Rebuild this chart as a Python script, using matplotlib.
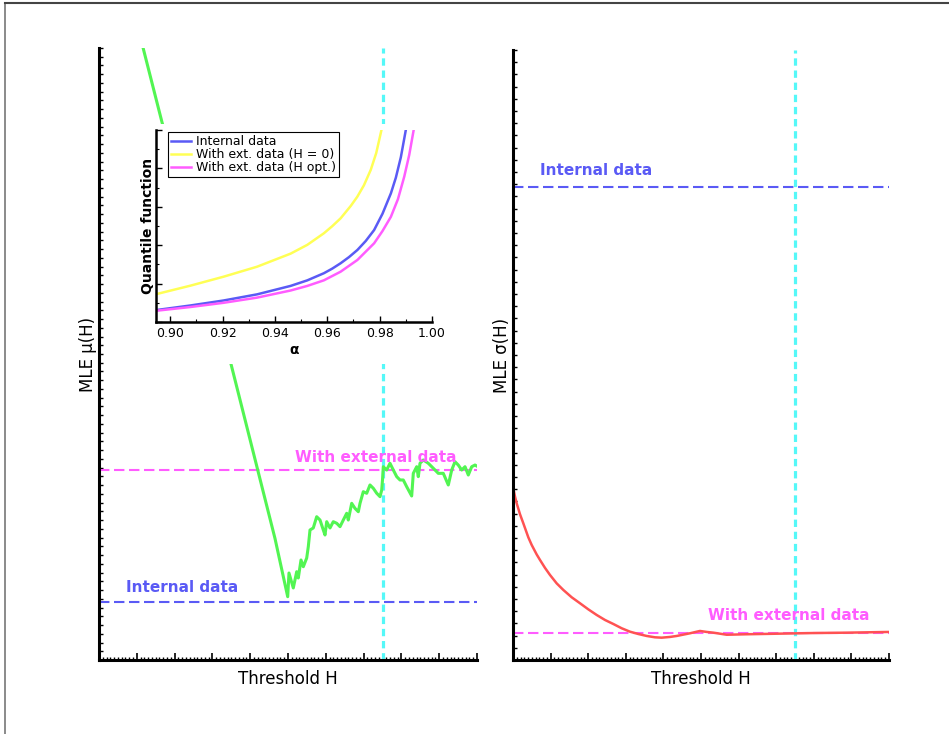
import numpy as np
import matplotlib
matplotlib.use("Agg")
import matplotlib.pyplot as plt
from matplotlib.lines import Line2D
from matplotlib.ticker import MultipleLocator

# ---- data (arbitrary units) ----
# left panel: MLE mu(H) vs threshold H
mu_h = [10.85, 16.67, 34.66, 46.56, 49.92, 50.26, 51.40, 52.30, 52.72, 53.44, 54.05,
        54.95, 55.37, 55.82, 56.69, 57.59, 58.47, 59.34, 59.79, 60.24, 61.11, 61.98,
        62.88, 63.76, 64.63, 65.53, 65.95, 66.85, 67.72, 68.60, 69.05, 69.92, 70.82,
        71.69, 72.57, 73.47, 74.34, 74.79, 75.00, 75.21, 76.11, 76.98, 77.86, 78.76,
        79.63, 80.50, 81.40, 82.72, 83.15, 84.05, 84.47, 84.92, 85.79, 87.12, 88.44,
        89.76, 91.08, 92.41, 93.31, 94.18, 95.05, 95.95, 96.83, 97.70, 98.60, 99.47, 99.92]
mu_val = [7.14, 6.15, 3.43, 1.39, 0.724, 0.995, 0.824, 1.01, 0.938, 1.144, 1.067,
          1.167, 1.296, 1.487, 1.510, 1.639, 1.601, 1.487, 1.430, 1.582, 1.510, 1.582,
          1.564, 1.525, 1.601, 1.678, 1.601, 1.792, 1.735, 1.696, 1.792, 1.925, 1.907,
          2.002, 1.964, 1.907, 1.868, 1.944, 2.059, 2.211, 2.173, 2.250, 2.173, 2.097,
          2.059, 2.059, 1.982, 1.876, 2.135, 2.211, 2.097, 2.250, 2.288, 2.250, 2.193,
          2.135, 2.135, 2.002, 2.173, 2.268, 2.230, 2.173, 2.211, 2.116, 2.211, 2.230, 2.219]
mu_internal = 0.663
mu_external = 2.173

# right panel: MLE sigma(H) vs threshold H
sig_h = [0.09, 0.53, 0.98, 1.86, 2.75, 4.08, 4.97, 6.30, 7.18, 8.51, 9.84, 11.62,
         13.39, 15.61, 17.82, 20.04, 22.26, 24.47, 26.69, 28.91, 31.12, 33.34, 35.56,
         37.77, 39.55, 41.76, 43.54, 45.31, 47.08, 48.86, 49.74, 51.52, 53.28, 56.84,
         62.16, 71.02, 79.88, 88.76, 100.0]
sig_val = [1.407, 1.340, 1.284, 1.195, 1.120, 1.005, 0.943, 0.865, 0.820, 0.755, 0.697,
           0.628, 0.574, 0.514, 0.465, 0.415, 0.369, 0.328, 0.295, 0.260, 0.232, 0.213,
           0.197, 0.186, 0.183, 0.189, 0.197, 0.208, 0.219, 0.232, 0.238, 0.230, 0.224,
           0.207, 0.211, 0.216, 0.221, 0.224, 0.230]
sig_internal = 3.880
sig_external = 0.224

h_opt = 75.0

# inset: quantile functions
q_alpha_int = [0.8949, 0.9077, 0.9204, 0.9332, 0.9460, 0.9524, 0.9587, 0.9619, 0.9651,
               0.9683, 0.9715, 0.9747, 0.9779, 0.9811, 0.9843, 0.9862, 0.9881, 0.9900]
q_int = [0.625, 0.86, 1.12, 1.44, 1.88, 2.17, 2.54, 2.78, 3.06,
         3.38, 3.75, 4.22, 4.79, 5.64, 6.70, 7.52, 8.58, 10.0]
q_alpha_h0 = [0.8949, 0.9077, 0.9204, 0.9332, 0.9460, 0.9524, 0.9587, 0.9619, 0.9651,
              0.9690, 0.9715, 0.9740, 0.9766, 0.9787, 0.9807]
q_h0 = [1.458, 1.891, 2.359, 2.880, 3.56, 4.02, 4.62, 4.99, 5.40,
        6.05, 6.53, 7.12, 7.92, 8.80, 10.0]
q_alpha_opt = [0.8949, 0.9077, 0.9204, 0.9332, 0.9460, 0.9524, 0.9587, 0.9651, 0.9715,
               0.9779, 0.9811, 0.9843, 0.9870, 0.9894, 0.9913, 0.9930]
q_opt = [0.589, 0.78, 1.00, 1.27, 1.64, 1.88, 2.17, 2.62, 3.23,
         4.10, 4.74, 5.48, 6.40, 7.57, 8.70, 10.0]

# colours
GREEN = '#52f552'
CYAN = '#55f8f8'
BLUE = '#5a5af5'
MAGENTA = '#ff5cff'
RED = '#ff5252'
YELLOW = '#ffff55'

W, H = 949, 734
fig = plt.figure(figsize=(W / 100, H / 100), dpi=100)


def px_rect(left, top, right, bottom):
    return [left / W, 1 - bottom / H, (right - left) / W, (bottom - top) / H]


def style_main(ax, ymax, ystep):
    for s in ['top', 'right']:
        ax.spines[s].set_visible(False)
    for s in ['left', 'bottom']:
        ax.spines[s].set_linewidth(2.2)
    ax.set_xlim(0, 100)
    ax.set_ylim(0, ymax)
    ax.xaxis.set_major_locator(MultipleLocator(10))
    ax.xaxis.set_minor_locator(MultipleLocator(1))
    ax.yaxis.set_major_locator(MultipleLocator(ystep))
    ax.tick_params(axis='both', which='both', direction='in', labelbottom=False, labelleft=False)
    ax.tick_params(axis='x', which='major', length=5, width=1.2)
    ax.tick_params(axis='x', which='minor', length=2.5, width=1.0)
    ax.tick_params(axis='y', which='major', length=3, width=1.0)
    ax.set_xlabel('Threshold H', fontsize=12, labelpad=7)


dash_kw = dict(linestyle=(0, (5, 2.2)), linewidth=1.5)
cyan_kw = dict(color=CYAN, linestyle=(0, (2.3, 1.5)), linewidth=2.3)

# ---- left panel ----
ax1 = fig.add_axes(px_rect(99, 48, 477, 660))
style_main(ax1, 7, 0.1)
ax1.axhline(mu_external, color=MAGENTA, **dash_kw)
ax1.axhline(mu_internal, color=BLUE, **dash_kw)
ax1.axvline(h_opt, **cyan_kw)
ax1.plot(mu_h, mu_val, color=GREEN, linewidth=2.2)
ax1.text(51.85, 2.32, 'With external data', color=MAGENTA, fontsize=11,
         fontweight='bold', va='center')
ax1.text(7.14, 0.824, 'Internal data', color=BLUE, fontsize=11,
         fontweight='bold', va='center')
ax1.set_ylabel('MLE μ(H)', fontsize=12, labelpad=1.5)

# ---- right panel ----
ax2 = fig.add_axes(px_rect(513, 50, 889, 660))
style_main(ax2, 5, 0.1)
ax2.axhline(sig_internal, color=BLUE, **dash_kw)
ax2.axhline(sig_external, color=MAGENTA, **dash_kw)
ax2.axvline(h_opt, **cyan_kw)
ax2.plot(sig_h, sig_val, color=RED, linewidth=1.8)
ax2.text(7.18, 4.016, 'Internal data', color=BLUE, fontsize=11,
         fontweight='bold', va='center')
ax2.text(51.87, 0.361, 'With external data', color=MAGENTA, fontsize=11,
         fontweight='bold', va='center')
ax2.set_ylabel('MLE σ(H)', fontsize=12, labelpad=1.5)

# ---- inset (white backing covers the main panel) ----
bg = fig.add_axes(px_rect(135, 124, 447, 364))
bg.set_xticks([])
bg.set_yticks([])
for s in bg.spines.values():
    s.set_visible(False)

axi = fig.add_axes(px_rect(156, 130, 432, 322))
axi.set_facecolor('white')
axi.plot(q_alpha_int, q_int, color=BLUE, linewidth=1.8, label='Internal data')
axi.plot(q_alpha_h0, q_h0, color=YELLOW, linewidth=1.8, label='With ext. data (H = 0)')
axi.plot(q_alpha_opt, q_opt, color=MAGENTA, linewidth=1.8, label='With ext. data (H opt.)')
axi.set_xlim(0.8946, 1.0)
axi.set_ylim(0, 10)
for s in ['top', 'right']:
    axi.spines[s].set_visible(False)
for s in ['left', 'bottom']:
    axi.spines[s].set_linewidth(1.8)
axi.xaxis.set_minor_locator(MultipleLocator(0.01))
axi.yaxis.set_major_locator(MultipleLocator(2))
axi.yaxis.set_minor_locator(MultipleLocator(1))
axi.tick_params(axis='both', which='both', direction='in', labelleft=False, labelsize=9)
axi.tick_params(which='major', length=4, width=1)
axi.tick_params(which='minor', length=2, width=0.8)
axi.set_xticks([0.90, 0.92, 0.94, 0.96, 0.98, 1.00])
axi.set_xticklabels(['0.90', '0.92', '0.94', '0.96', '0.98', '1.00'])
axi.set_xlabel('α', fontsize=10, fontweight='bold', labelpad=2)
axi.set_ylabel('Quantile function', fontsize=10, fontweight='bold', labelpad=1)
leg = axi.legend(loc='upper left', bbox_to_anchor=(0.042, 0.99), borderaxespad=0,
                 fontsize=9, labelspacing=0.0, handlelength=1.6, handletextpad=0.4,
                 borderpad=0.25, fancybox=False, framealpha=1, edgecolor='black')
leg.get_frame().set_linewidth(0.8)

# ---- page frame (left and top edges) ----
fig.add_artist(Line2D([4.5 / W, 4.5 / W], [0, 1 - 3 / H], transform=fig.transFigure,
                      color='#777777', linewidth=1.2))
fig.add_artist(Line2D([4.5 / W, 1], [1 - 3 / H, 1 - 3 / H], transform=fig.transFigure,
                      color='#444444', linewidth=1.5))

fig.savefig('out.png', dpi=100)
